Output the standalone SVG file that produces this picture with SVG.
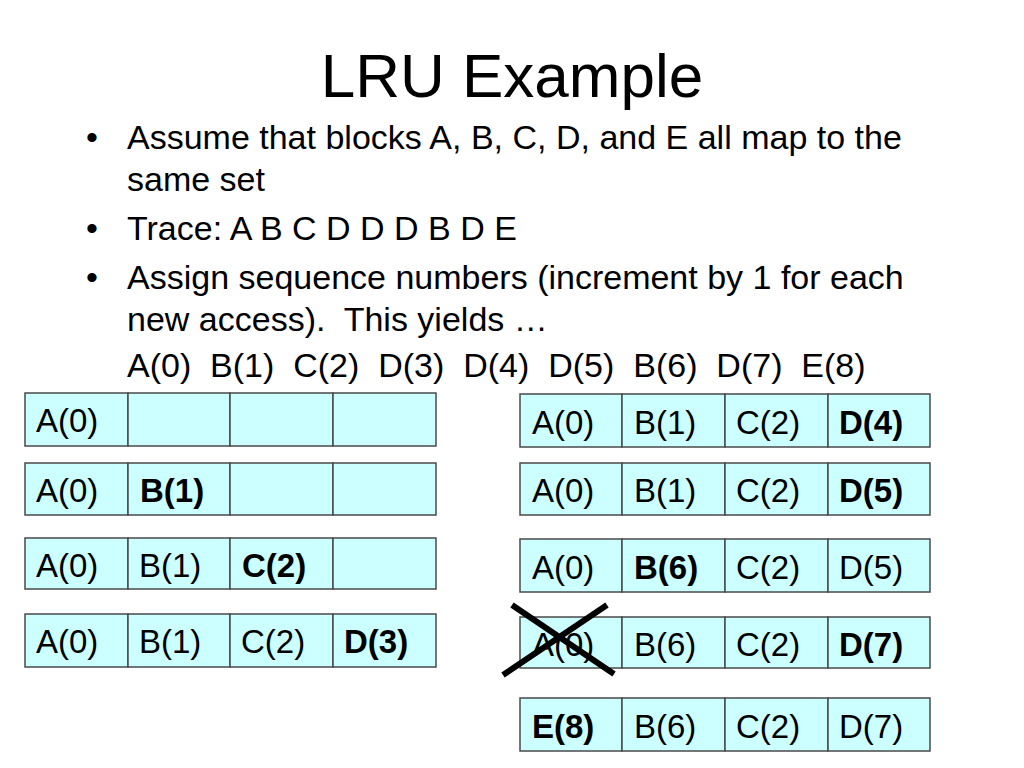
<svg xmlns="http://www.w3.org/2000/svg" width="1024" height="768" viewBox="0 0 1024 768">
<style>
text{font-family:"Liberation Sans",Arial,sans-serif;fill:#000}
.title{font-size:62px}
.b{font-size:34px}
.c{font-size:33px}
.bold{font-weight:bold}
.cell{fill:#CCFFFF;stroke:#4a4a4a;stroke-width:1.5}
.x{stroke:#000;stroke-width:6;stroke-linecap:butt}
</style>
<rect width="1024" height="768" fill="#fff"/>
<text class="title" x="512" y="97" text-anchor="middle">LRU Example</text>
<g id="bullets" class="b">
<text x="92" y="149" text-anchor="middle">•</text>
<text x="127" y="149">Assume that blocks A, B, C, D, and E all map to the</text>
<text x="127" y="191">same set</text>
<text x="92" y="240" text-anchor="middle">•</text>
<text x="127" y="240">Trace: A B C D D D B D E</text>
<text x="92" y="289" text-anchor="middle">•</text>
<text x="127" y="289">Assign sequence numbers (increment by 1 for each</text>
<text x="127" y="331" xml:space="preserve">new access).  This yields …</text>
<text x="127" y="377" xml:space="preserve">A(0)  B(1)  C(2)  D(3)  D(4)  D(5)  B(6)  D(7)  E(8)</text>
</g>
<g id="left1">
<rect class="cell" x="25" y="393" width="103" height="53"/><rect class="cell" x="128" y="393" width="102" height="53"/><rect class="cell" x="230" y="393" width="103" height="53"/><rect class="cell" x="333" y="393" width="103" height="53"/>
<text class="c" x="36" y="432">A(0)</text>
</g>
<g id="left2">
<rect class="cell" x="25" y="463" width="103" height="52"/><rect class="cell" x="128" y="463" width="102" height="52"/><rect class="cell" x="230" y="463" width="103" height="52"/><rect class="cell" x="333" y="463" width="103" height="52"/>
<text class="c" x="36" y="502">A(0)</text><text class="c bold" x="140" y="502">B(1)</text>
</g>
<g id="left3">
<rect class="cell" x="25" y="538" width="103" height="51"/><rect class="cell" x="128" y="538" width="102" height="51"/><rect class="cell" x="230" y="538" width="103" height="51"/><rect class="cell" x="333" y="538" width="103" height="51"/>
<text class="c" x="36" y="577">A(0)</text><text class="c" x="139" y="577">B(1)</text><text class="c bold" x="242" y="577">C(2)</text>
</g>
<g id="left4">
<rect class="cell" x="25" y="614" width="103" height="53"/><rect class="cell" x="128" y="614" width="102" height="53"/><rect class="cell" x="230" y="614" width="103" height="53"/><rect class="cell" x="333" y="614" width="103" height="53"/>
<text class="c" x="36" y="653">A(0)</text><text class="c" x="139" y="653">B(1)</text><text class="c" x="241" y="653">C(2)</text><text class="c bold" x="344" y="653">D(3)</text>
</g>
<g id="right1">
<rect class="cell" x="520" y="394" width="102" height="53"/><rect class="cell" x="622" y="394" width="103" height="53"/><rect class="cell" x="725" y="394" width="103" height="53"/><rect class="cell" x="828" y="394" width="102" height="53"/>
<text class="c" x="532" y="434">A(0)</text><text class="c" x="634" y="434">B(1)</text><text class="c" x="736" y="434">C(2)</text><text class="c bold" x="839" y="434">D(4)</text>
</g>
<g id="right2">
<rect class="cell" x="520" y="463" width="102" height="52"/><rect class="cell" x="622" y="463" width="103" height="52"/><rect class="cell" x="725" y="463" width="103" height="52"/><rect class="cell" x="828" y="463" width="102" height="52"/>
<text class="c" x="532" y="502">A(0)</text><text class="c" x="634" y="502">B(1)</text><text class="c" x="736" y="502">C(2)</text><text class="c bold" x="839" y="502">D(5)</text>
</g>
<g id="right3">
<rect class="cell" x="520" y="539" width="102" height="53"/><rect class="cell" x="622" y="539" width="103" height="53"/><rect class="cell" x="725" y="539" width="103" height="53"/><rect class="cell" x="828" y="539" width="102" height="53"/>
<text class="c" x="532" y="579">A(0)</text><text class="c bold" x="634" y="579">B(6)</text><text class="c" x="736" y="579">C(2)</text><text class="c" x="839" y="579">D(5)</text>
</g>
<g id="right4">
<rect class="cell" x="520" y="617" width="102" height="51"/><rect class="cell" x="622" y="617" width="103" height="51"/><rect class="cell" x="725" y="617" width="103" height="51"/><rect class="cell" x="828" y="617" width="102" height="51"/>
<text class="c" x="532" y="656">A(0)</text><text class="c" x="634" y="656">B(6)</text><text class="c" x="736" y="656">C(2)</text><text class="c bold" x="839" y="656">D(7)</text>
</g>
<g id="right5">
<rect class="cell" x="520" y="698" width="102" height="53"/><rect class="cell" x="622" y="698" width="103" height="53"/><rect class="cell" x="725" y="698" width="103" height="53"/><rect class="cell" x="828" y="698" width="102" height="53"/>
<text class="c bold" x="532" y="738">E(8)</text><text class="c" x="634" y="738">B(6)</text><text class="c" x="736" y="738">C(2)</text><text class="c" x="839" y="738">D(7)</text>
</g>
<g id="cross">
<line class="x" x1="512" y1="605" x2="614" y2="674"/>
<line class="x" x1="607" y1="605" x2="503" y2="675"/>
</g>
</svg>
